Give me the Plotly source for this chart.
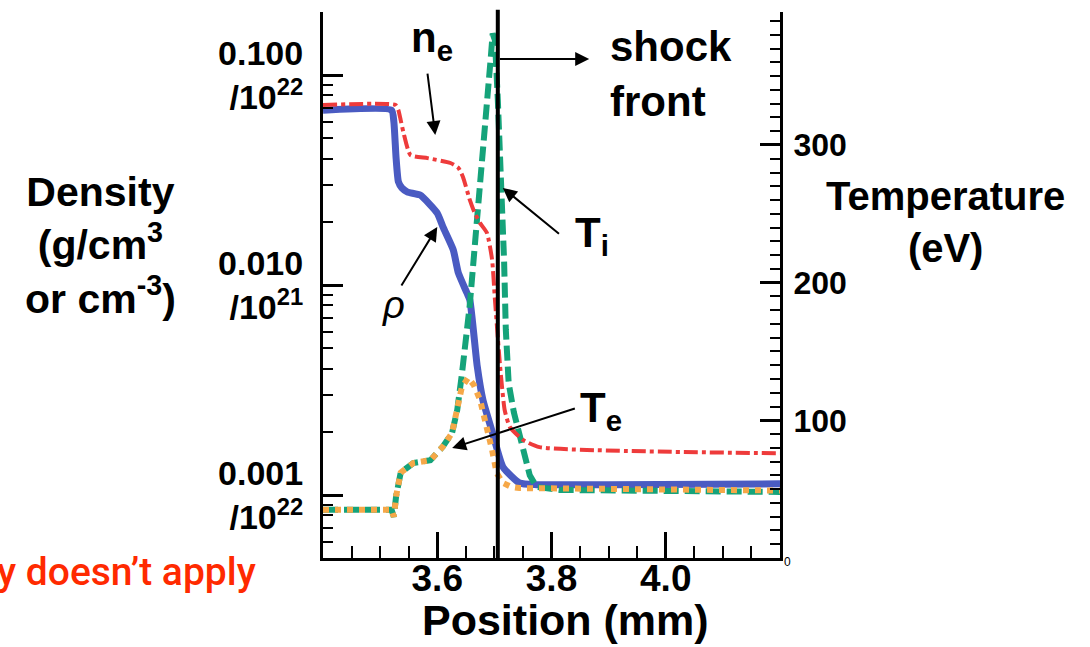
import math
import plotly.graph_objects as go

# ---------------- data ----------------
rho_x = [3.40, 3.52, 3.524, 3.528, 3.532, 3.538, 3.548, 3.57, 3.60, 3.61, 3.628, 3.637,
         3.652, 3.657, 3.67, 3.68, 3.697, 3.715, 3.744, 3.774, 3.9, 4.2]
rho_y = [0.068, 0.068, 0.060, 0.040, 0.031, 0.0290, 0.0277, 0.0268, 0.022, 0.0189, 0.0147, 0.0114,
         0.00916, 0.0085, 0.0041, 0.00283, 0.00197, 0.00136, 0.00114, 0.00112, 0.00112, 0.00113]

ne_x = [3.40, 3.527, 3.532, 3.536, 3.541, 3.553, 3.583, 3.623, 3.637, 3.645, 3.657, 3.665,
        3.675, 3.687, 3.696, 3.701, 3.710, 3.718, 3.727, 3.750, 3.779, 4.2]
ne_y = [0.072, 0.072, 0.068, 0.061, 0.053, 0.0416, 0.0402, 0.0381, 0.0361, 0.0327, 0.0254, 0.0222,
        0.0197, 0.0177, 0.0132, 0.0085, 0.0041, 0.00254, 0.00211, 0.00183, 0.00169, 0.00158]

te_x = [3.40, 3.52, 3.524, 3.528, 3.536, 3.558, 3.588, 3.610, 3.626, 3.635, 3.643, 3.654,
        3.664, 3.675, 3.687, 3.696, 3.704, 3.715, 3.730, 3.744, 4.2]
te_y = [35, 35, 30, 45, 62, 69, 71, 81, 91, 107.5, 124, 131,
        125.7, 114.8, 95, 78.4, 61.7, 54.5, 51.6, 50.8, 49]

ti_x = [3.40, 3.52, 3.524, 3.528, 3.536, 3.558, 3.588, 3.610, 3.626, 3.635, 3.643, 3.652,
        3.657, 3.668, 3.675, 3.687, 3.694, 3.697, 3.701, 3.706, 3.713, 3.717, 3.720, 3.725,
        3.734, 3.748, 3.762, 3.774, 3.814, 4.2]
ti_y = [35, 35, 30, 45, 62, 69, 71, 81, 91, 107.5, 133, 165.6,
        184, 238, 269.5, 325, 365, 381, 376, 333, 269, 216, 166, 127,
        106, 82, 60, 51.6, 49.4, 48]

shock_pos = 3.706

x_ticks = [3.6, 3.8, 4.0]
x_ticklabels = ["3.6", "3.8", "4.0"]
y_ticks = [0.001, 0.01, 0.1]
y_ticklabels = ["0.001<br>/10<sup>22</sup>", "0.010<br>/10<sup>21</sup>", "0.100<br>/10<sup>22</sup>"]
t_ticks = [0, 100, 200, 300]
t_ticklabels = ["", "100", "200", "300"]

# ---------------- layout helpers ----------------
W, H = 1090, 647
L, R, T, B = 323, 780, 12, 558
Y_RANGE = [-3.3, -0.7]
y_minor = [m * 10.0 ** e for e in (-4, -3, -2, -1) for m in range(2, 10)
           if Y_RANGE[0] <= math.log10(m * 10.0 ** e) <= Y_RANGE[1] + 1e-9]


def px(x):
    return (x - L) / (R - L)


def py(y):
    return (B - y) / (B - T)


FONT = "Liberation Sans, Arial, Helvetica, sans-serif"

fig = go.Figure()

fig.add_trace(go.Scatter(x=rho_x, y=rho_y, mode="lines", yaxis="y",
                         line=dict(color="#4a5bc2", width=7, shape="spline", smoothing=0.5),
                         name="rho"))
# n_e is drawn on a twin log axis with the same range (that axis carries the minor ticks)
fig.add_trace(go.Scatter(x=ne_x, y=ne_y, mode="lines", yaxis="y3",
                         line=dict(color="#ee3b3b", width=4, dash="14px,4px,4px,4px",
                                   shape="spline", smoothing=0.5), name="ne"))
fig.add_trace(go.Scatter(x=ti_x, y=ti_y, mode="lines", yaxis="y2",
                         line=dict(color="#15a37a", width=6, dash="15px,6px"), name="Ti"))
fig.add_trace(go.Scatter(x=te_x, y=te_y, mode="lines", yaxis="y2",
                         line=dict(color="#f6a848", width=6, dash="6px,6px"), name="Te"))

fig.add_shape(type="line", xref="x", yref="paper", x0=shock_pos, x1=shock_pos, y0=0, y1=1.004,
              line=dict(color="black", width=4), layer="above")

axis_common = dict(showgrid=False, zeroline=False, showline=True, linecolor="black",
                   linewidth=3, ticks="inside", tickcolor="black", tickwidth=2.5)

fig.update_layout(
    width=W, height=H,
    margin=dict(l=L, r=W - R, t=T, b=H - B, pad=0),
    paper_bgcolor="white", plot_bgcolor="white",
    showlegend=False,
    font=dict(family=FONT, color="black"),
    xaxis=dict(range=[3.4, 4.2], tickmode="array", tickvals=x_ticks, ticktext=x_ticklabels,
               ticklen=26, ticklabelstandoff=-14,
               tickfont=dict(size=37, family=FONT, weight="bold"),
               minor=dict(dtick=0.05, ticks="inside", ticklen=12, tickcolor="black", tickwidth=2),
               **axis_common),
    yaxis=dict(type="log", range=Y_RANGE, tickmode="array", tickvals=y_ticks,
               ticktext=y_ticklabels, ticklen=20, ticklabelstandoff=10,
               tickfont=dict(size=34, family=FONT, weight="bold"),
               **axis_common),
    yaxis3=dict(type="log", range=Y_RANGE, overlaying="y", side="left", anchor="x",
                tickmode="array", tickvals=y_minor, showticklabels=False, ticks="inside",
                ticklen=10, tickwidth=2, tickcolor="black", showgrid=False, zeroline=False,
                showline=False),
    yaxis2=dict(range=[0, 396.6], overlaying="y", side="right", tickmode="array",
                tickvals=t_ticks, ticktext=t_ticklabels, ticklen=20, ticklabelstandoff=4,
                tickfont=dict(size=32, family=FONT, weight="bold"),
                minor=dict(dtick=10, ticks="inside", ticklen=10, tickcolor="black", tickwidth=2),
                **axis_common),
)

ann = []


def text(x, y, s, size, xanchor="center", align="center", color="black", family=FONT):
    ann.append(dict(x=x, y=y, xref="paper", yref="paper", text=s, showarrow=False,
                    xanchor=xanchor, yanchor="middle", align=align,
                    font=dict(size=size, color=color, family=family)))


text(px(100), py(245), "<b>Density<br>(g/cm<sup>3</sup><br>or cm<sup>-3</sup>)</b>", 41)
text(px(945), py(222), "<b>Temperature<br>(eV)</b>", 40)
text(px(565), py(620), "<b>Position (mm)</b>", 43)
text(px(608), py(74), "<b>shock<br>front</b>", 42, xanchor="left", align="left")
text(px(432), py(40), "<b>n<sub>e</sub></b>", 42)
text(px(592), py(235), "<b>T<sub>i</sub></b>", 42)
text(px(601), py(410), "<b>T<sub>e</sub></b>", 42)
text(px(393), py(305), "<i>ρ</i>", 38)
text(px(787), py(562), "0", 12)
ann.append(dict(x=px(258), y=py(572), xref="paper", yref="paper", text="y doesn’t apply",
                showarrow=False, xanchor="right", yanchor="middle",
                font=dict(size=39, color="#ff2a00", weight=500,
                          family="Liberation Sans Narrow, Arial Narrow, Roboto, sans-serif")))

arrows = [
    ((3.866, 362.5), (3.707, 362.5)),
    ((3.5965, 307.3), (3.5826, 353.0)),
    ((3.600, 240.4), (3.5357, 196.8)),
    ((3.7148, 268.8), (3.8157, 234.6)),
    ((3.6261, 79.9), (3.8435, 109.0)),
]
for (hx, hy), (tx, ty) in arrows:
    ann.append(dict(x=hx, y=hy, xref="x", yref="y2", ax=tx, ay=ty, axref="x", ayref="y2",
                    text="", showarrow=True, arrowhead=2, arrowsize=1.4, arrowwidth=2,
                    arrowcolor="black", standoff=0, startstandoff=0))

fig.update_layout(annotations=ann)

fig.write_html("out.html")
